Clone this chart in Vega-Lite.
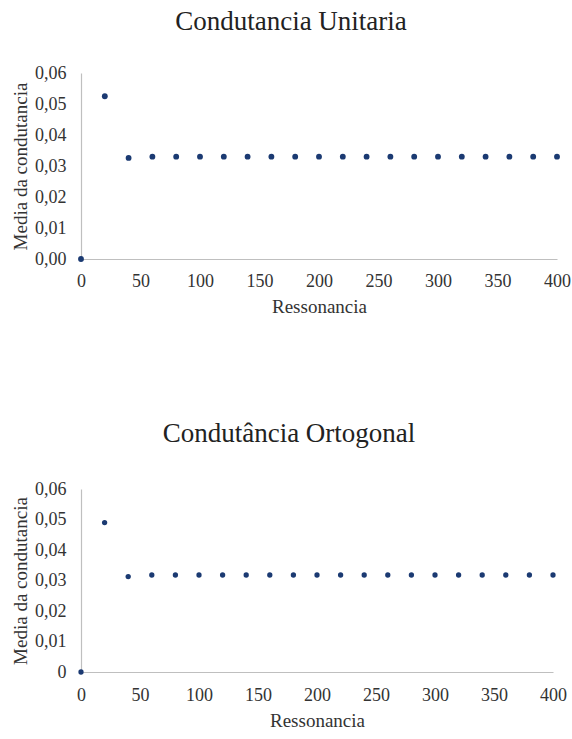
{
  "$schema": "https://vega.github.io/schema/vega-lite/v6.json",
  "background": "white",
  "padding": {"left": 11, "top": 8, "right": 0, "bottom": 0},
  "spacing": 104,
  "config": {
    "view": {"stroke": null},
    "font": "Liberation Serif, Times New Roman, serif",
    "title": {"font": "Liberation Serif, Times New Roman, serif", "fontSize": 27, "fontWeight": "normal", "color": "#222222", "anchor": "middle", "frame": "bounds"},
    "axis": {
      "grid": false,
      "ticks": false,
      "labelFlush": false,
      "domainColor": "#bfbfbf",
      "domainWidth": 1.2,
      "labelFont": "Liberation Serif, Times New Roman, serif",
      "labelFontSize": 18,
      "labelColor": "#333333",
      "titleFont": "Liberation Serif, Times New Roman, serif",
      "titleFontSize": 19,
      "titleFontWeight": "normal",
      "titleColor": "#333333"
    }
  },
  "vconcat": [
    {
      "title": {"text": "Condutancia Unitaria", "offset": 28},
      "width": 476,
      "height": 186,
      "data": {
        "values": [
          {"ressonancia": 0, "media": 0.0},
          {"ressonancia": 20, "media": 0.0525},
          {"ressonancia": 40, "media": 0.0326},
          {"ressonancia": 60, "media": 0.033},
          {"ressonancia": 80, "media": 0.033},
          {"ressonancia": 100, "media": 0.033},
          {"ressonancia": 120, "media": 0.033},
          {"ressonancia": 140, "media": 0.033},
          {"ressonancia": 160, "media": 0.033},
          {"ressonancia": 180, "media": 0.033},
          {"ressonancia": 200, "media": 0.033},
          {"ressonancia": 220, "media": 0.033},
          {"ressonancia": 240, "media": 0.033},
          {"ressonancia": 260, "media": 0.033},
          {"ressonancia": 280, "media": 0.033},
          {"ressonancia": 300, "media": 0.033},
          {"ressonancia": 320, "media": 0.033},
          {"ressonancia": 340, "media": 0.033},
          {"ressonancia": 360, "media": 0.033},
          {"ressonancia": 380, "media": 0.033},
          {"ressonancia": 400, "media": 0.033}
        ]
      },
      "mark": {"type": "point", "filled": true, "size": 34, "color": "#1b3a72", "opacity": 1},
      "encoding": {
        "x": {
          "field": "ressonancia", "type": "quantitative",
          "scale": {"domain": [0, 400], "nice": false},
          "axis": {"title": "Ressonancia", "values": [0, 50, 100, 150, 200, 250, 300, 350, 400], "labelPadding": 13, "titlePadding": 7}
        },
        "y": {
          "field": "media", "type": "quantitative",
          "scale": {"domain": [0, 0.06], "nice": false},
          "axis": {
            "title": "Media da condutancia",
            "values": [0, 0.01, 0.02, 0.03, 0.04, 0.05, 0.06],
            "labelExpr": "replace(format(datum.value, '.2f'), '.', ',')",
            "labelPadding": 15,
            "titlePadding": 4
          }
        }
      }
    },
    {
      "title": {"text": "Condutância Ortogonal", "offset": 32},
      "width": 472,
      "height": 183,
      "data": {
        "values": [
          {"ressonancia": 0, "media": 0.0},
          {"ressonancia": 20, "media": 0.049},
          {"ressonancia": 40, "media": 0.0313},
          {"ressonancia": 60, "media": 0.0318},
          {"ressonancia": 80, "media": 0.0318},
          {"ressonancia": 100, "media": 0.0318},
          {"ressonancia": 120, "media": 0.0318},
          {"ressonancia": 140, "media": 0.0318},
          {"ressonancia": 160, "media": 0.0318},
          {"ressonancia": 180, "media": 0.0318},
          {"ressonancia": 200, "media": 0.0318},
          {"ressonancia": 220, "media": 0.0318},
          {"ressonancia": 240, "media": 0.0318},
          {"ressonancia": 260, "media": 0.0318},
          {"ressonancia": 280, "media": 0.0318},
          {"ressonancia": 300, "media": 0.0318},
          {"ressonancia": 320, "media": 0.0318},
          {"ressonancia": 340, "media": 0.0318},
          {"ressonancia": 360, "media": 0.0318},
          {"ressonancia": 380, "media": 0.0318},
          {"ressonancia": 400, "media": 0.0318}
        ]
      },
      "mark": {"type": "point", "filled": true, "size": 28, "color": "#1b3a72", "opacity": 1},
      "encoding": {
        "x": {
          "field": "ressonancia", "type": "quantitative",
          "scale": {"domain": [0, 400], "nice": false},
          "axis": {"title": "Ressonancia", "values": [0, 50, 100, 150, 200, 250, 300, 350, 400], "labelPadding": 14, "titlePadding": 7}
        },
        "y": {
          "field": "media", "type": "quantitative",
          "scale": {"domain": [0, 0.06], "nice": false},
          "axis": {
            "title": "Media da condutancia",
            "values": [0, 0.01, 0.02, 0.03, 0.04, 0.05, 0.06],
            "labelExpr": "datum.value == 0 ? '0' : replace(format(datum.value, '.2f'), '.', ',')",
            "labelPadding": 15,
            "titlePadding": 4
          }
        }
      }
    }
  ]
}
